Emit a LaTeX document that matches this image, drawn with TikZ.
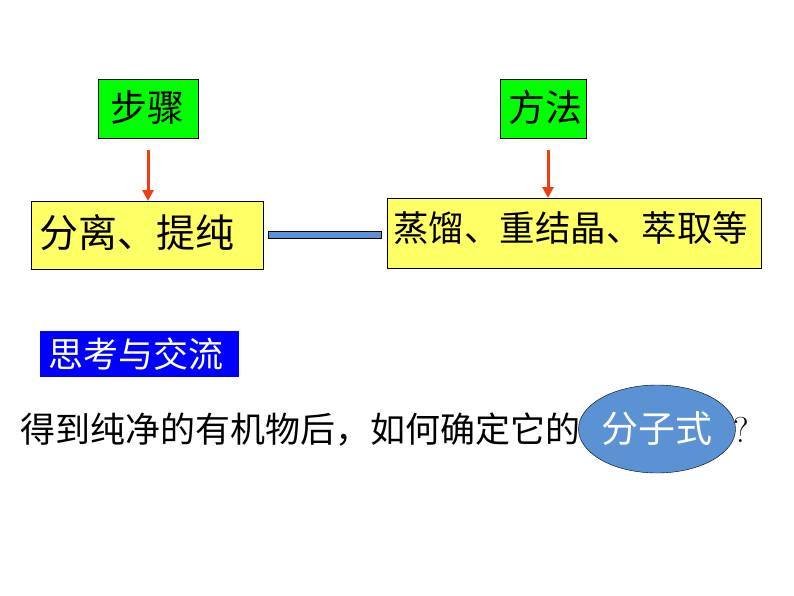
\documentclass[tikz,border=0pt]{standalone}
\usepackage{fontspec}
\newfontfamily\cjk{Noto Sans CJK SC}
\usetikzlibrary{arrows.meta,shapes.geometric}
\definecolor{ygreen}{RGB}{0,255,0}
\definecolor{yel}{RGB}{255,255,102}
\definecolor{dblue}{RGB}{0,0,255}
\definecolor{sblue}{RGB}{90,146,212}
\definecolor{ared}{RGB}{240,60,20}
\begin{document}
\begin{tikzpicture}[x=1pt,y=-1pt,
  box/.style={draw=black,line width=0.8pt,inner sep=0pt,anchor=north west},
  lbl/.style={anchor=west,inner sep=0pt},
  arr/.style={-{Triangle[length=11pt,width=11pt]},draw=ared,line width=3pt}]
\useasboundingbox (0,0) rectangle (794,596);
\node[box,fill=ygreen,minimum width=100pt,minimum height=59pt] (s) at (98,79) {};
\node[lbl,font=\cjk\fontsize{37}{40}\selectfont] (st) at (110,107) {步骤};
\node[box,fill=ygreen,minimum width=86pt,minimum height=59pt] (f) at (500,79) {};
\node[lbl,font=\cjk\fontsize{37}{40}\selectfont] (ft) at (508,107) {方法};
\node[box,fill=yel,minimum width=232pt,minimum height=68pt] (a) at (31,201) {};
\node[lbl,font=\cjk\fontsize{39}{42}\selectfont] (at) at (39,233) {分离、提纯};
\node[box,fill=yel,minimum width=374pt,minimum height=70pt] (b) at (387,198) {};
\node[lbl,font=\cjk\fontsize{35.5}{38}\selectfont] (bt) at (393,228) {蒸馏、重结晶、萃取等};
\draw[arr] (148,150) coordinate (s1) -- (s1 |- a.north);
\draw[arr] (548,150) coordinate (f1) -- (f1 |- b.north);
\node[draw=black,fill=sblue,line width=0.8pt,inner sep=0pt,minimum width=113pt,minimum height=7pt,anchor=west] (c) at (268,235) {};
\node[box,draw=none,fill=dblue,minimum width=199pt,minimum height=46pt] (t) at (40,331) {};
\node[lbl,text=white,font=\cjk\fontsize{35}{38}\selectfont] (tt) at (48,354) {思考与交流};
\node[lbl,font=\cjk\fontsize{35}{38}\selectfont] (q) at (20,430) {得到纯净的有机物后，如何确定它的};
\node[ellipse,draw=black,fill=sblue,minimum width=124pt,minimum height=88pt,inner sep=0pt,text=white,font=\cjk\fontsize{37}{40}\selectfont] (e) at (657,429) {分子式};
\node[font=\fontsize{36}{38}\selectfont,inner sep=0pt] (qm) at (741,430) {?};
\end{tikzpicture}
\end{document}
